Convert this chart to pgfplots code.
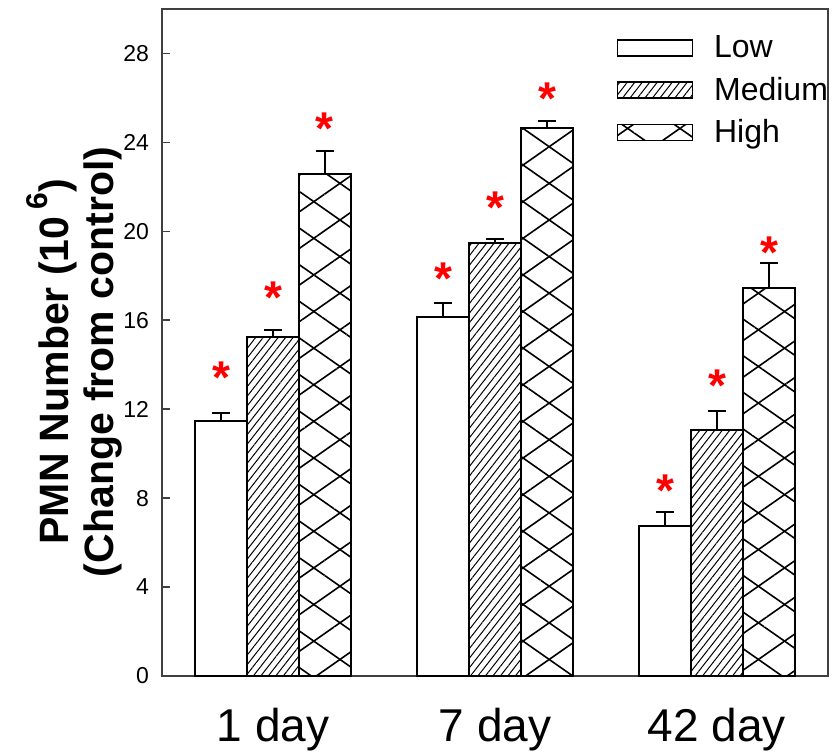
\documentclass[border=0pt]{standalone}
\usepackage{fontspec}
\setmainfont{Liberation Sans}
\usepackage{pgfplots}
\pgfplotsset{compat=1.18}
\usetikzlibrary{patterns.meta}

% bar centre, bar height and upper error of each dose group
\pgfplotstableread{
x      y      e
-0.234 11.47  0.36
0.766  16.15  0.63
1.766  6.75   0.63
}\lowdata
\pgfplotstableread{
x      y      e
0      15.25  0.31
1      19.48  0.18
2      11.07  0.85
}\meddata
\pgfplotstableread{
x      y      e
0.234  22.58  1.04
1.234  24.65  0.32
2.234  17.45  1.13
}\highdata
% significance markers (bar position, marker height)
\pgfplotstableread{
x      y
-0.234 13.68
0      17.27
0.234  24.88
0.766  18.13
1      21.32
1.234  26.23
1.766  8.59
2      13.32
2.234  19.30
}\stardata

\begin{document}
\begin{tikzpicture}
\begin{axis}[
  scale only axis,
  width=333pt, height=333.5pt,
  xmin=-0.5, xmax=2.5,
  ymin=0, ymax=30,
  axis line style={draw=black!75, line width=1pt},
  xtick={0,1,2},
  xticklabels={1 day,7 day,42 day},
  x tick label style={font=\fontsize{23}{27}\selectfont, yshift=-12.5pt},
  xtick style={draw=none},
  ytick={0,4,...,28},
  ytick pos=left,
  tick align=inside,
  major tick length=4pt,
  ytick style={draw=black!75, line width=0.8pt},
  y tick label style={font=\fontsize{11.5}{13}\selectfont, xshift=-3pt},
  /pgf/number format/assume math mode=true,
  every axis y label/.style={at={(axis description cs:-0.1276,0.471)}, rotate=90, anchor=center},
  ylabel={\fontsize{20.5}{22.5}\selectfont\bfseries\begin{tabular}{c}PMN Number (10\,\raisebox{0.5em}{\fontsize{15}{15}\selectfont 6})\\(Change from control)\end{tabular}},
  legend cell align=left,
  legend style={draw=none, fill=none, inner sep=0pt, at={(rel axis cs:0.682,0.967)}, anchor=north west,
    font=\fontsize{16}{19}\selectfont, row sep=4.2pt,
    nodes={inner sep=2pt},
    /tikz/every odd column/.append style={column sep=8.5pt}},
  legend image code/.code={\draw[#1, line width=0.75pt] (0pt,-4pt) rectangle (37.5pt,4pt);},
  bar width=0.234,
  error bars/y dir=plus,
  error bars/y explicit,
  error bars/error bar style={line width=0.75pt, black},
  error bars/error mark options={line width=0.75pt, black, mark size=4.5pt, rotate=90},
]
\addplot[ybar, bar shift=0, draw=black, line width=0.75pt, fill=white]
  table[x=x, y=y, y error=e] {\lowdata};
\addlegendentry{Low}
\addplot[ybar, bar shift=0, draw=black, line width=0.75pt, fill=white,
  postaction={pattern={Lines[angle=52, distance=2.95pt, line width=0.5pt]}}]
  table[x=x, y=y, y error=e] {\meddata};
\addlegendentry{Medium}
\addplot[ybar, bar shift=0, draw=black, line width=0.75pt, fill=white,
  postaction={pattern={Lines[angle=35, distance=15pt, line width=0.8pt]}},
  postaction={pattern={Lines[angle=-35, distance=15pt, line width=0.8pt]}}]
  table[x=x, y=y, y error=e] {\highdata};
\addlegendentry{High}
\addplot[only marks, mark=text, text mark={*}, text mark as node=true, forget plot,
  text mark style={text=red, font=\fontsize{23}{23}\selectfont\bfseries, inner sep=0pt, anchor=center, yshift=-3pt}]
  table[x=x, y=y] {\stardata};
\end{axis}
\pgfresetboundingbox
\path (-81pt,-37.5pt) rectangle (335.5pt,338pt);
\end{tikzpicture}
\end{document}
